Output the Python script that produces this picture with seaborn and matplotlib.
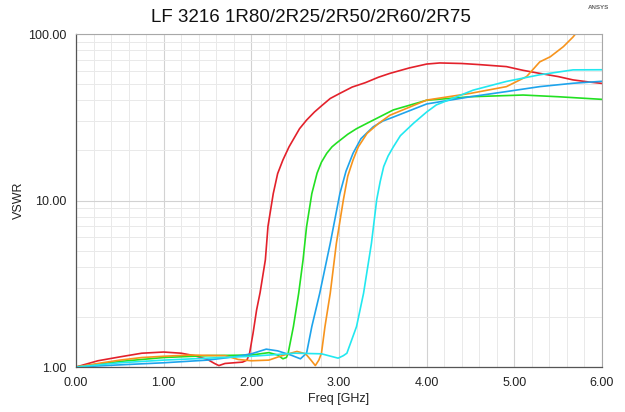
import matplotlib
matplotlib.use("Agg")
import matplotlib.pyplot as plt
from matplotlib.ticker import FixedLocator, LogLocator, FuncFormatter, NullFormatter
import numpy as np
import pandas as pd
import seaborn as sns

# Trace names and colours
traces = ["1R80", "2R25", "2R50", "2R60", "2R75"]
colors = ["#e3212b", "#22e022", "#1ea4ec", "#f7941d", "#22e8f0"]

# VSWR versus frequency (GHz) for each trace
f_1r80 = [0.0, 0.25, 0.5, 0.75, 1.0, 1.2, 1.35, 1.5, 1.58, 1.63, 1.7, 1.8, 1.9, 1.95, 1.98,
          2.02, 2.06, 2.10, 2.16, 2.19, 2.25, 2.30, 2.36, 2.43, 2.55, 2.63, 2.72, 2.8, 2.9,
          3.01, 3.15, 3.3, 3.45, 3.58, 3.8, 4.0, 4.15, 4.4, 4.6, 4.91, 5.1, 5.29, 5.5,
          5.67, 5.85, 6.0]
v_1r80 = [1.0, 1.09, 1.15, 1.21, 1.23, 1.21, 1.17, 1.11, 1.05, 1.02, 1.05, 1.06, 1.07, 1.1, 1.21,
          1.6, 2.2, 2.8, 4.4, 7.0, 11.0, 14.5, 17.5, 21.0, 27.0, 30.4, 34.0, 37.0, 41.0,
          44.0, 48.0, 51.0, 55.0, 58.0, 62.5, 66.0, 67.0, 66.5, 65.5, 63.7, 60.5, 58.0, 55.5,
          53.0, 51.5, 50.5]

f_2r25 = [0.0, 0.5, 1.0, 1.5, 2.0, 2.2, 2.3, 2.36, 2.40, 2.42, 2.48, 2.54, 2.59, 2.63,
          2.69, 2.75, 2.80, 2.86, 2.92, 2.97, 3.1, 3.2, 3.32, 3.62, 4.0, 4.5, 5.1, 5.5, 6.0]
v_2r25 = [1.0, 1.08, 1.14, 1.17, 1.18, 1.22, 1.18, 1.12, 1.14, 1.21, 1.75, 2.77, 4.4, 6.96,
          11.0, 14.6, 17.0, 19.2, 21.0, 22.1, 25.0, 27.0, 29.1, 35.0, 40.0, 42.0, 43.0, 42.0, 40.5]

f_2r50 = [0.0, 0.5, 1.0, 1.5, 1.8, 2.0, 2.17, 2.3, 2.45, 2.56, 2.63, 2.69, 2.78, 2.90,
          3.01, 3.08, 3.16, 3.25, 3.39, 3.5, 3.62, 4.0, 4.5, 4.91, 5.29, 5.67, 6.0]
v_2r50 = [1.0, 1.03, 1.06, 1.1, 1.15, 1.2, 1.28, 1.25, 1.18, 1.12, 1.21, 1.75, 2.77, 5.53,
          11.0, 15.0, 19.2, 23.5, 27.7, 30.0, 31.7, 38.0, 42.0, 45.1, 48.3, 50.6, 52.0]

f_2r60 = [0.0, 0.25, 0.5, 0.75, 1.0, 1.3, 1.7, 1.85, 2.0, 2.2, 2.35, 2.52, 2.62, 2.68,
          2.73, 2.77, 2.80, 2.84, 2.90, 2.97, 3.05, 3.10, 3.16, 3.22, 3.32, 3.45, 3.58,
          4.0, 4.5, 4.91, 5.14, 5.29, 5.41, 5.56, 5.67, 5.71, 5.76]
v_2r60 = [1.0, 1.05, 1.1, 1.14, 1.16, 1.18, 1.17, 1.11, 1.09, 1.1, 1.17, 1.24, 1.2, 1.1,
          1.02, 1.1, 1.21, 1.75, 2.77, 5.53, 10.1, 14.0, 17.5, 21.0, 25.3, 29.0, 32.5,
          40.1, 44.0, 48.3, 55.5, 68.0, 73.0, 84.0, 96.0, 102.0, 110.0]

f_2r75 = [0.0, 0.5, 1.0, 1.5, 2.0, 2.5, 2.8, 2.99, 3.05, 3.09, 3.20, 3.28, 3.37, 3.43,
          3.47, 3.51, 3.56, 3.62, 3.7, 3.85, 4.0, 4.11, 4.53, 4.91, 5.29, 5.67, 6.0]
v_2r75 = [1.0, 1.06, 1.1, 1.13, 1.16, 1.21, 1.2, 1.13, 1.17, 1.21, 1.75, 2.77, 5.53, 10.1,
          13.0, 16.0, 18.5, 21.0, 24.5, 29.1, 34.0, 37.5, 46.0, 51.9, 56.9, 60.9, 61.0]

freqs = [f_1r80, f_2r25, f_2r50, f_2r60, f_2r75]
vswrs = [v_1r80, v_2r25, v_2r50, v_2r60, v_2r75]

df = pd.concat(
    [pd.DataFrame({"freq": f, "vswr": v, "trace": name})
     for name, f, v in zip(traces, freqs, vswrs)],
    ignore_index=True,
)

sns.set_theme(style="white")
plt.rcParams["font.family"] = ["Liberation Sans", "DejaVu Sans"]

fig = plt.figure(figsize=(6.25, 4.12), dpi=100)
ax = fig.add_axes([76 / 625, 1 - 367 / 412, 526 / 625, 333 / 412])

sns.lineplot(data=df, x="freq", y="vswr", hue="trace", palette=dict(zip(traces, colors)),
             estimator=None, sort=False, legend=False, linewidth=1.2, ax=ax)

ax.set_yscale("log")
ax.set_xlim(0, 6)
ax.set_ylim(1, 100)

# Axis ticks
ax.xaxis.set_major_locator(FixedLocator([0, 1, 2, 3, 4, 5, 6]))
ax.xaxis.set_minor_locator(FixedLocator(np.arange(0, 6.01, 0.2)))
ax.xaxis.set_major_formatter(FuncFormatter(lambda x, p: f"{x:.2f}"))
ax.yaxis.set_major_locator(FixedLocator([1, 10, 100]))
ax.yaxis.set_minor_locator(LogLocator(base=10, subs=np.arange(2, 10)))
ax.yaxis.set_major_formatter(FuncFormatter(lambda y, p: f"{y:.2f}"))
ax.yaxis.set_minor_formatter(NullFormatter())

ax.tick_params(axis="both", which="major", labelsize=9, colors="#333333", length=5, width=0.8)
ax.tick_params(axis="x", which="minor", direction="in", length=3, width=0.6, color="#555555")
ax.tick_params(axis="y", which="minor", direction="out", length=3, width=0.6, color="#555555")
ax.tick_params(axis="both", which="major", pad=2, labelcolor="#222222")

# Grid
ax.grid(True, which="major", color="#d2d2d2", linewidth=0.8)
ax.grid(True, which="minor", color="#e9e9e9", linewidth=0.7)
ax.set_axisbelow(True)

for side in ["left", "bottom"]:
    ax.spines[side].set_color("#555555")
    ax.spines[side].set_linewidth(0.9)
for side in ["top", "right"]:
    ax.spines[side].set_color("#a8a8a8")
    ax.spines[side].set_linewidth(0.8)

ax.set_xlabel("Freq [GHz]", fontsize=9, color="#222222", labelpad=3)
ax.set_ylabel("VSWR", fontsize=9, color="#222222", labelpad=2)

fig.text(0.497, 0.957, "LF 3216 1R80/2R25/2R50/2R60/2R75", ha="center", va="center",
         fontsize=13.5, color="#111111")
fig.text(0.975, 0.983, "ANSYS", ha="right", va="center", fontsize=4.5,
         fontweight="bold", color="#666666")

fig.savefig("out.png", dpi=100)
